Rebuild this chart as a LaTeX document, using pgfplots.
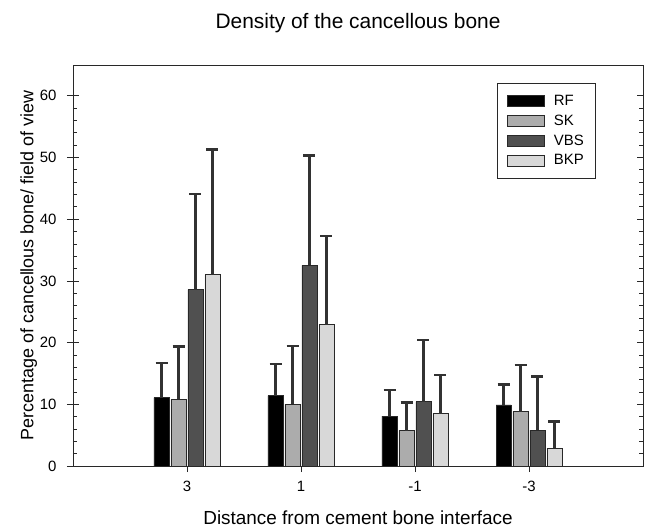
\documentclass[border=0pt]{standalone}
\usepackage{fontspec}
\setmainfont{Liberation Sans}
\usepackage{pgfplots}
\pgfplotsset{compat=1.18}
\usepackage{pgfplotstable}

\definecolor{cRF}{RGB}{0,0,0}
\definecolor{cSK}{RGB}{172,172,172}
\definecolor{cVBS}{RGB}{80,80,80}
\definecolor{cBKP}{RGB}{216,216,216}
\definecolor{axisc}{RGB}{40,40,40}
\definecolor{errc}{RGB}{50,50,50}

\pgfplotstableread{
x y e
0 11.1 5.6
1 11.4 5.1
2 8.1 4.2
3 9.9 3.3
}\rf
\pgfplotstableread{
x y e
0 10.8 8.6
1 10.0 9.5
2 5.7 4.6
3 8.8 7.6
}\sk
\pgfplotstableread{
x y e
0 28.6 15.5
1 32.5 17.8
2 10.4 10.0
3 5.8 8.7
}\vbs
\pgfplotstableread{
x y e
0 31.0 20.3
1 22.9 14.4
2 8.5 6.3
3 2.9 4.3
}\bkp

\pgfplotsset{
  mybar/.style={fill=#1, draw=axisc, line width=0.8pt,
    legend image code/.code={\draw[fill=#1, draw=axisc, line width=0.8pt] (0bp,-5.5bp) rectangle (37bp,5.5bp); \path[draw=none, fill=none] (0bp,0bp) rectangle (44bp,1bp);},
    error bars/y dir=plus, error bars/y explicit,
    error bars/error bar style={line width=2.1pt, color=errc},
    error bars/error mark options={rotate=90, mark size=6bp, line width=2.4pt, color=errc}},
}

\begin{document}
\begin{tikzpicture}
\useasboundingbox (-73bp,-65bp) rectangle (577bp,466bp);
\begin{axis}[
  at={(0,0)}, anchor=south west, scale only axis,
  width=570bp, height=401bp,
  xmin=-1, xmax=4, ymin=0, ymax=65,
  ybar, bar width=0.132,
  /pgf/number format/assume math mode=true,
  xtick={0,1,2,3}, xticklabels={3,1,-1,-3}, xtick pos=bottom,
  ytick={0,10,...,60}, minor y tick num=4, ytick pos=both, yticklabel pos=left,
  tick align=inside, major tick length=6bp, minor tick length=4bp,
  x tick style={yshift=-6bp},
  tick style={axisc, line width=0.8pt},
  axis line style={axisc, line width=1pt},
  ticklabel style={font=\fontsize{15}{15}\selectfont},
  xticklabel style={yshift=-12bp},
  yticklabel style={xshift=-13bp},
  title={Density of the cancellous bone},
  title style={font=\fontsize{21}{21}\selectfont, at={(0.5,1)}, anchor=center, yshift=36bp},
  xlabel={Distance from cement bone interface},
  xlabel style={font=\fontsize{19}{19}\selectfont, at={(0.5,0)}, anchor=center, yshift=-52bp},
  ylabel={Percentage of cancellous bone/ field of view},
  ylabel style={font=\fontsize{18}{18}\selectfont, yshift=-4bp},
  legend style={at={(0.744,0.956)}, anchor=north west, draw=axisc, line width=0.8pt,
    font=\fontsize{15}{15}\selectfont, inner xsep=10bp, inner ysep=10bp, row sep=4bp},
  legend cell align=left,
]
\addplot[mybar=cRF, bar shift=-0.2235] table[x=x, y=y, y error=e] {\rf};
\addplot[mybar=cSK, bar shift=-0.0745] table[x=x, y=y, y error=e] {\sk};
\addplot[mybar=cVBS, bar shift=0.0745] table[x=x, y=y, y error=e] {\vbs};
\addplot[mybar=cBKP, bar shift=0.2235] table[x=x, y=y, y error=e] {\bkp};
\legend{RF, SK, VBS, BKP}
\end{axis}
\begin{axis}[
  at={(0,0)}, anchor=south west, scale only axis,
  width=570bp, height=401bp,
  xmin=-1, xmax=4, ymin=0, ymax=65,
  hide x axis, axis y line*=left,
  ytick={0,10,...,60}, yticklabels={},
  tick align=outside, major tick length=6bp,
  tick style={axisc, line width=0.8pt},
  axis line style={axisc, line width=1pt},
]
\end{axis}
\end{tikzpicture}
\end{document}
